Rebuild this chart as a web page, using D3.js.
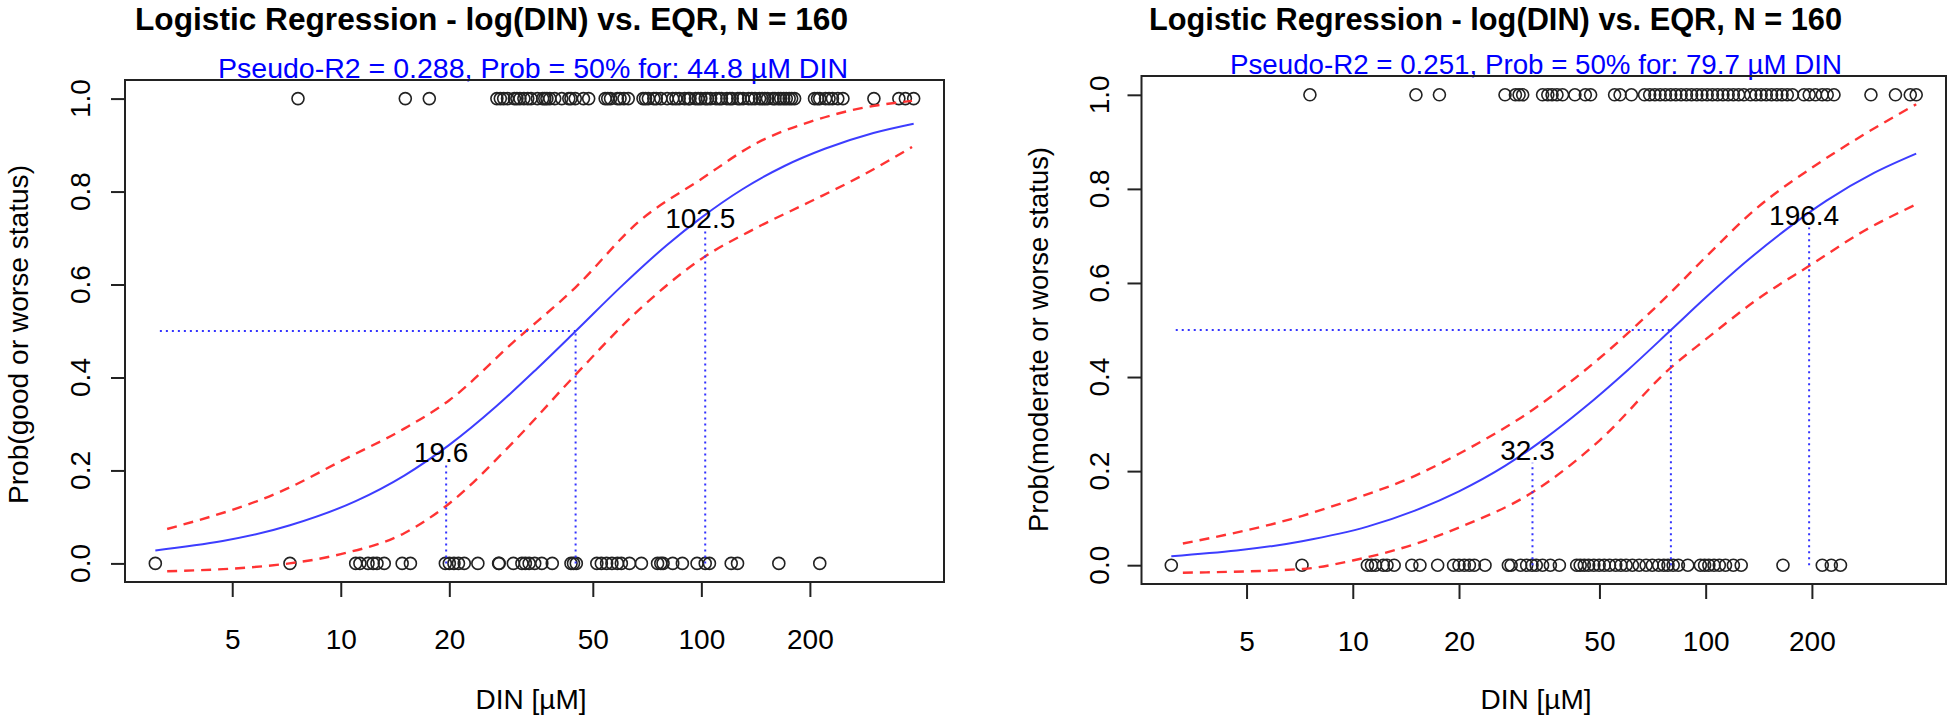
<!DOCTYPE html>
<html>
<head>
<meta charset="utf-8">
<script src="https://cdn.jsdelivr.net/npm/d3@7"></script>
<style>
  body { margin: 0; background: #ffffff; }
</style>
</head>
<body>
<div id="chart"></div>
<script>
// Two logistic-regression panels: DIN (log scale) vs. probability of EQR class.

const xTicks = [5, 10, 20, 50, 100, 200];
const yTicks = [0, 0.2, 0.4, 0.6, 0.8, 1.0];

// --- left panel: good or worse status ---
const goodZeroDIN = [3.06, 7.23, 11.0, 11.3, 11.9, 12.3, 12.6, 13.2, 14.8, 15.6, 19.5, 20.0, 20.6,
  21.2, 22.0, 24.0, 27.4, 27.5, 30.1, 31.8, 32.5, 33.3, 34.5, 36.1, 38.6, 43.5, 44.2, 45.0, 51.3,
  52.8, 54.6, 56.5, 58.5, 60.0, 63.2, 68.2, 75.6, 77.2, 78.3, 83.3, 88.6, 97.3, 102.5, 105.3, 121,
  126, 164, 213];
const goodOneDIN = [7.61, 15.1, 17.6, 27.1, 27.7, 28.3, 29.0, 30.3, 30.8, 31.4, 32.2, 33.0, 33.7,
  35.1, 36.3, 36.8, 37.3, 38.0, 39.2, 41.0, 42.9, 43.5, 44.7, 47.1, 48.7, 54.1, 55.0, 56.0, 58.5,
  59.5, 61.0, 62.7, 68.9, 70.0, 71.3, 73.8, 75.0, 77.2, 80.4, 83.3, 85.0, 86.8, 89.9, 92.0, 93.0,
  96.3, 98.0, 99.7, 102.5, 104.0, 106.1, 109.8, 112.0, 113.7, 117.7, 120.0, 121.8, 126.2, 128.0,
  130.6, 135.2, 138.0, 140.9, 145.0, 147.4, 150.0, 152.6, 157.9, 160.0, 163.5, 166.0, 169.2, 172.0,
  175.2, 178.0, 181.4, 206, 210, 213, 221, 226, 231, 239, 247, 301, 353, 368, 388];
const goodFitDIN  = [3.06, 7.23, 11, 15, 20, 27, 35, 45, 60, 80, 100, 130, 170, 220, 300, 388];
const goodFitProb = [0.028, 0.082, 0.134, 0.189, 0.255, 0.338, 0.419, 0.501, 0.596, 0.684, 0.744,
  0.805, 0.855, 0.892, 0.926, 0.946];
const goodBandDIN = [3.3, 7.2, 10, 15, 20, 30, 44.8, 67, 100, 143, 200, 280, 384];
const goodUpper   = [0.074, 0.163, 0.22, 0.29, 0.351, 0.475, 0.594, 0.735, 0.827, 0.905, 0.950, 0.980, 0.995];
const goodLower   = [-0.017, 0.0, 0.02, 0.065, 0.129, 0.26, 0.406, 0.545, 0.655, 0.723, 0.778, 0.835, 0.896];
const goodMarkDIN  = [19.6, 44.8, 102.5];
const goodMarkProb = [0.213, 0.5, 0.718];
const goodLabels   = ["19.6", "", "102.5"];

// --- right panel: moderate or worse status ---
const modZeroDIN = [3.06, 7.18, 11.0, 11.3, 11.6, 12.2, 12.5, 13.1, 14.7, 15.5, 17.4, 19.3, 20.0,
  20.7, 21.4, 22.1, 23.7, 27.6, 28.1, 29.9, 31.1, 32.2, 33.1, 34.5, 36.3, 38.5, 43.1, 44.1, 45.3,
  46.6, 48.2, 49.9, 51.6, 53.4, 55.6, 57.5, 59.5, 62.0, 64.8, 67.8, 70.6, 73.6, 76.1, 78.2, 80.9,
  83.7, 89.0, 96.6, 99.3, 102.1, 105.6, 109.3, 113.8, 119.8, 126.1, 165.6, 214, 227, 241];
const modOneDIN = [7.56, 15.1, 17.6, 27.0, 28.9, 29.6, 30.3, 34.5, 35.7, 36.7, 37.9, 39.3, 42.6,
  45.6, 47.2, 55.2, 57.2, 61.6, 67.1, 69.4, 71.8, 74.3, 76.9, 79.6, 82.3, 85.2, 88.2, 91.2, 94.4,
  97.6, 101, 104.5, 108.1, 111.9, 115.8, 119.8, 124.0, 128.3, 134.1, 138.8, 143.6, 148.5, 153.7,
  159.0, 164.6, 170.3, 176.2, 189.9, 196.5, 204.7, 214, 221, 231, 294, 345, 380, 395];
const modFitDIN  = [3.06, 7.18, 11, 15, 20, 27, 35, 45, 60, 80, 100, 130, 170, 220, 300, 395];
const modFitProb = [0.019, 0.051, 0.082, 0.116, 0.157, 0.211, 0.269, 0.333, 0.414, 0.501, 0.569,
  0.645, 0.715, 0.775, 0.834, 0.875];
const modBandDIN = [3.3, 7.2, 10, 15, 20, 32.3, 50, 79.7, 100, 140, 200, 280, 395];
const modUpper   = [0.046, 0.105, 0.14, 0.19, 0.237, 0.33, 0.44, 0.58, 0.655, 0.76, 0.845, 0.915, 0.98];
const modLower   = [-0.016, -0.008, 0.01, 0.045, 0.08, 0.155, 0.265, 0.42, 0.48, 0.565, 0.64, 0.71, 0.767];
const modMarkDIN  = [32.3, 79.7, 196.4];
const modMarkProb = [0.218, 0.5, 0.718];
const modLabels   = ["32.3", "", "196.4"];

const FONT = "'Liberation Sans', Arial, sans-serif";
const W = 1950, H = 720;

const svg = d3.select("#chart").append("svg")
  .attr("width", W).attr("height", H)
  .attr("viewBox", `0 0 ${W} ${H}`)
  .style("background", "#ffffff")
  .attr("font-family", FONT);

function drawPanel(L, D) {
  const g = svg.append("g");

  // R-style 4% padding around the data range
  const all = D.zero.concat(D.one);
  const lo = Math.log10(d3.min(all)), hi = Math.log10(d3.max(all));
  const pad = (hi - lo) * 0.04;
  const x = d3.scaleLog().domain([10 ** (lo - pad), 10 ** (hi + pad)]).range([L.left, L.right]);
  const y = d3.scaleLinear().domain([-0.04, 1.04]).range([L.bottom, L.top]);

  // titles
  g.append("text")
    .attr("x", L.titleX).attr("y", 30)
    .attr("font-size", 31).attr("font-weight", "bold").attr("fill", "#000")
    .attr("textLength", L.titleLen).attr("lengthAdjust", "spacingAndGlyphs")
    .text("Logistic Regression - log(DIN)  vs. EQR, N = 160");
  g.append("text")
    .attr("x", L.subX).attr("y", L.top - 2)
    .attr("font-size", 28).attr("fill", "#0000ff")
    .attr("textLength", L.subLen).attr("lengthAdjust", "spacingAndGlyphs")
    .text(D.subtitle);

  // points
  const pts = D.zero.map(v => [v, 0]).concat(D.one.map(v => [v, 1]));
  g.append("g").selectAll("circle").data(pts).join("circle")
    .attr("cx", d => x(d[0])).attr("cy", d => y(d[1])).attr("r", 6)
    .attr("fill", "none").attr("stroke", "#222").attr("stroke-width", 1.6);

  const line = d3.line().x(d => x(d[0])).y(d => y(d[1])).curve(d3.curveMonotoneX);

  // confidence band
  for (const band of [D.upper, D.lower]) {
    g.append("path")
      .attr("d", line(D.bandDIN.map((v, i) => [v, band[i]])))
      .attr("fill", "none").attr("stroke", "#ff3333").attr("stroke-width", 2.4)
      .attr("stroke-dasharray", "10,7");
  }

  // fitted curve
  g.append("path")
    .attr("d", line(D.fitDIN.map((v, i) => [v, D.fitProb[i]])))
    .attr("fill", "none").attr("stroke", "#3d3dff").attr("stroke-width", 2);

  // 25/50/75% guide lines
  const dotted = (x1, y1, x2, y2) => g.append("line")
    .attr("x1", x1).attr("y1", y1).attr("x2", x2).attr("y2", y2)
    .attr("stroke", "#3333ff").attr("stroke-width", 2).attr("stroke-dasharray", "2,4");
  dotted(x(3.15), y(0.5), x(D.markDIN[1]), y(0.5));
  D.markDIN.forEach((v, i) => dotted(x(v), y(0), x(v), y(D.markProb[i])));
  D.markDIN.forEach((v, i) => {
    if (!D.labels[i]) return;
    g.append("text")
      .attr("x", x(v) - 5).attr("y", y(D.markProb[i] + 0.025))
      .attr("text-anchor", "middle").attr("dominant-baseline", "central")
      .attr("font-size", 28).attr("fill", "#000")
      .text(D.labels[i]);
  });

  // box
  g.append("rect")
    .attr("x", L.left).attr("y", L.top)
    .attr("width", L.right - L.left).attr("height", L.bottom - L.top)
    .attr("fill", "none").attr("stroke", "#222").attr("stroke-width", 2);

  // x axis
  const xa = g.append("g").attr("transform", `translate(0,${L.bottom})`)
    .call(d3.axisBottom(x).tickValues(xTicks).tickFormat(d3.format("d"))
      .tickSize(15).tickSizeOuter(0).tickPadding(32));
  xa.select(".domain").remove();
  xa.selectAll(".tick line").attr("stroke", "#222").attr("stroke-width", 2);
  xa.selectAll(".tick text").attr("font-size", 28).attr("font-family", FONT).attr("fill", "#000");

  // y axis
  const ya = g.append("g").attr("transform", `translate(${L.left},0)`)
    .call(d3.axisLeft(y).tickValues(yTicks).tickFormat(d3.format(".1f")).tickSize(14).tickSizeOuter(0));
  ya.select(".domain").remove();
  ya.selectAll(".tick line").attr("stroke", "#222").attr("stroke-width", 2);
  ya.selectAll(".tick text").remove();
  g.append("g").selectAll("text").data(yTicks).join("text")
    .attr("transform", d => `translate(${L.ytickX},${y(d)}) rotate(-90)`)
    .attr("text-anchor", "middle").attr("font-size", 28).attr("fill", "#000")
    .text(d => d3.format(".1f")(d));

  // axis titles
  g.append("text")
    .attr("x", L.xlabX).attr("y", 709).attr("text-anchor", "middle")
    .attr("font-size", 28).attr("fill", "#000")
    .text("DIN [µM]");
  g.append("text")
    .attr("transform", `translate(${L.ylabX},${L.ylabY}) rotate(-90)`)
    .attr("text-anchor", "middle").attr("font-size", 28).attr("fill", "#000")
    .attr("textLength", L.ylabLen).attr("lengthAdjust", "spacingAndGlyphs")
    .text(D.ylabel);
}

drawPanel(
  { left: 125, right: 944, top: 80, bottom: 582, titleX: 135, titleLen: 713, subX: 218, subLen: 630,
    ytickX: 90, ylabX: 28, ylabY: 334.5, ylabLen: 339, xlabX: 531 },
  { zero: goodZeroDIN, one: goodOneDIN, fitDIN: goodFitDIN, fitProb: goodFitProb,
    bandDIN: goodBandDIN, upper: goodUpper, lower: goodLower,
    markDIN: goodMarkDIN, markProb: goodMarkProb, labels: goodLabels,
    subtitle: "Pseudo-R2 = 0.288, Prob = 50% for: 44.8 µM DIN",
    ylabel: "Prob(good or worse status)" }
);

drawPanel(
  { left: 1141.5, right: 1946, top: 76, bottom: 584, titleX: 1149, titleLen: 693, subX: 1230, subLen: 612,
    ytickX: 1109, ylabX: 1048, ylabY: 339.5, ylabLen: 385, xlabX: 1536 },
  { zero: modZeroDIN, one: modOneDIN, fitDIN: modFitDIN, fitProb: modFitProb,
    bandDIN: modBandDIN, upper: modUpper, lower: modLower,
    markDIN: modMarkDIN, markProb: modMarkProb, labels: modLabels,
    subtitle: "Pseudo-R2 = 0.251, Prob = 50% for: 79.7 µM DIN",
    ylabel: "Prob(moderate or worse status)" }
);
</script>
</body>
</html>
